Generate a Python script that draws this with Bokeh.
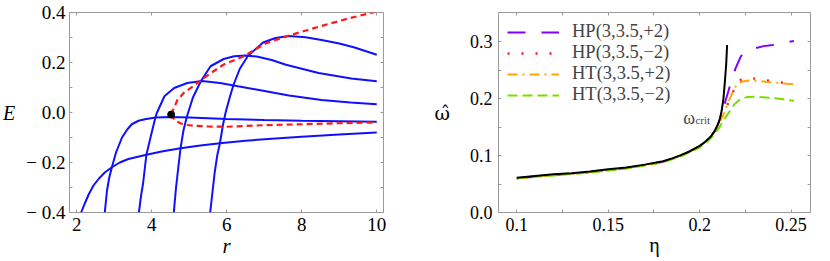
from bokeh.plotting import figure
from bokeh.layouts import row
from bokeh.models import (Range1d, FixedTicker, LinearAxis, Label, Legend, LegendItem)
from bokeh.embed import file_html
from bokeh.resources import INLINE

# ---------------- left panel data (E vs r) ----------------
r1 = [2.12, 2.2, 2.33, 2.45, 2.59, 2.75, 2.94, 3.15, 3.38, 3.86, 4.3, 4.77, 5.3, 5.82, 6.5, 7.2, 8.0, 9.0, 10.0]
E1 = [-0.40, -0.37, -0.325, -0.292, -0.265, -0.240, -0.219, -0.200, -0.186, -0.169, -0.155, -0.143, -0.132, -0.123, -0.113, -0.105, -0.097, -0.088, -0.080]

r2 = [2.75, 2.81, 2.87, 2.94, 3.05, 3.21, 3.35, 3.47, 3.65, 3.82, 4.10, 4.5, 5.0, 6.0, 7.0, 8.0, 9.0, 10.0]
E2 = [-0.40, -0.312, -0.26, -0.219, -0.16, -0.10, -0.068, -0.047, -0.033, -0.027, -0.020, -0.018, -0.020, -0.026, -0.030, -0.033, -0.035, -0.037]

r3 = [3.66, 3.72, 3.77, 3.86, 3.99, 4.10, 4.14, 4.34, 4.60, 4.95, 5.34, 5.82, 6.3, 6.79, 7.66, 8.53, 9.3, 10.0]
E3 = [-0.40, -0.33, -0.285, -0.169, -0.087, -0.02, -0.001, 0.065, 0.098, 0.118, 0.126, 0.118, 0.105, 0.092, 0.068, 0.050, 0.040, 0.033]

r4 = [4.59, 4.65, 4.71, 4.77, 4.85, 4.94, 5.1, 5.31, 5.57, 5.92, 6.2, 6.5, 6.8, 7.2, 7.58, 8.45, 9.32, 10.0]
E4 = [-0.40, -0.30, -0.22, -0.143, -0.07, -0.016, 0.06, 0.125, 0.185, 0.214, 0.225, 0.228, 0.224, 0.210, 0.191, 0.158, 0.136, 0.125]

r5 = [5.56, 5.62, 5.68, 5.75, 5.82, 5.9, 5.97, 6.08, 6.18, 6.35, 6.57, 6.97, 7.3, 7.66, 8.1, 8.53, 9.0, 9.41, 10.0]
E5 = [-0.40, -0.32, -0.24, -0.17, -0.123, -0.05, -0.001, 0.06, 0.11, 0.175, 0.227, 0.28, 0.298, 0.306, 0.301, 0.290, 0.276, 0.260, 0.231]

r_max = [4.52, 4.6, 4.69, 4.86, 5.13, 5.34, 5.65, 5.91, 6.44, 7.05, 7.62, 8.45, 9.24, 9.76, 10.0]
E_max = [-0.007, 0.02, 0.051, 0.079, 0.108, 0.132, 0.165, 0.191, 0.224, 0.277, 0.306, 0.343, 0.376, 0.395, 0.405]

r_min = [4.52, 4.56, 4.65, 4.78, 4.95, 5.13, 5.5, 6.0, 6.97, 8.01, 8.97, 10.0]
E_min = [-0.007, -0.02, -0.035, -0.044, -0.05, -0.053, -0.056, -0.057, -0.051, -0.047, -0.043, -0.040]

r_dot = [4.52]
E_dot = [-0.008]

left_xticks = [2, 4, 6, 8, 10]
left_yticks = [-0.4, -0.2, 0.0, 0.2, 0.4]
left_yminor = [-0.3, -0.1, 0.1, 0.3]
left_ylabels = ["\u2212 0.4", "\u2212 0.2", "0.0", "0.2", "0.4"]

# ---------------- right panel data (omega vs eta) ----------------
eta_crit = [0.100, 0.110, 0.120, 0.130, 0.140, 0.150, 0.160, 0.170, 0.180, 0.185, 0.190, 0.195, 0.200, 0.203, 0.206, 0.208, 0.210, 0.211, 0.212, 0.213, 0.2138, 0.2145, 0.2150]
w_crit = [0.061, 0.064, 0.067, 0.069, 0.072, 0.076, 0.079, 0.084, 0.090, 0.095, 0.101, 0.108, 0.117, 0.124, 0.133, 0.142, 0.155, 0.164, 0.178, 0.200, 0.230, 0.260, 0.294]

eta_hp_p = [0.100, 0.120, 0.140, 0.160, 0.180, 0.190, 0.200, 0.205, 0.209, 0.212, 0.2145, 0.2168, 0.2195, 0.2225, 0.226, 0.230, 0.235, 0.240, 0.245, 0.2515]
w_hp_p = [0.060, 0.066, 0.071, 0.078, 0.089, 0.100, 0.116, 0.129, 0.146, 0.172, 0.200, 0.225, 0.252, 0.274, 0.284, 0.288, 0.292, 0.294, 0.297, 0.301]

eta_hp_m = [0.100, 0.120, 0.140, 0.160, 0.180, 0.190, 0.200, 0.205, 0.209, 0.212, 0.214, 0.2175, 0.2204, 0.2235, 0.226, 0.230, 0.234, 0.2427, 0.2515]
w_hp_m = [0.060, 0.066, 0.071, 0.078, 0.089, 0.100, 0.116, 0.129, 0.146, 0.172, 0.181, 0.205, 0.228, 0.235, 0.237, 0.235, 0.233, 0.229, 0.225]

eta_ht_p = [0.100, 0.120, 0.140, 0.160, 0.180, 0.190, 0.200, 0.205, 0.210, 0.213, 0.2159, 0.2185, 0.2204, 0.2235, 0.2268, 0.232, 0.2369, 0.2478, 0.2515]
w_ht_p = [0.060, 0.066, 0.071, 0.078, 0.089, 0.100, 0.116, 0.128, 0.152, 0.172, 0.195, 0.215, 0.225, 0.230, 0.2315, 0.231, 0.229, 0.226, 0.225]

eta_ht_m = [0.100, 0.120, 0.140, 0.160, 0.180, 0.190, 0.200, 0.205, 0.208, 0.2105, 0.213, 0.2165, 0.219, 0.2222, 0.226, 0.2295, 0.2387, 0.245, 0.2515]
w_ht_m = [0.060, 0.065, 0.070, 0.077, 0.088, 0.099, 0.114, 0.127, 0.137, 0.148, 0.162, 0.178, 0.190, 0.199, 0.2025, 0.203, 0.2015, 0.199, 0.196]

legend_labels = ["HP(3,3.5,+2)", "HP(3,3.5,\u22122)", "HT(3,3.5,+2)", "HT(3,3.5,\u22122)"]

right_xticks = [0.1, 0.15, 0.2, 0.25]
right_xminor = [0.125, 0.175, 0.225]
right_xlabels = ["0.1", "0.15", "0.2", "0.25"]
right_yticks = [0.0, 0.1, 0.2, 0.3]
right_yminor = [0.05, 0.15, 0.25]
right_ylabels = ["0.0", "0.1", "0.2", "0.3"]

SERIF = "Liberation Serif"
FRAME = "#9a9a9a"


def style_axes(p, xt, xminor, yt, yminor, xlab, ylab, fsize, xstand, ystand):
    xtick = FixedTicker(ticks=xt, minor_ticks=xminor)
    ytick = FixedTicker(ticks=yt, minor_ticks=yminor)
    extra_top = LinearAxis()
    extra_right = LinearAxis()
    p.add_layout(extra_top, "above")
    p.add_layout(extra_right, "right")
    for ax in list(p.xaxis) + list(p.yaxis):
        ax.axis_line_color = None
        ax.major_tick_in = 3
        ax.major_tick_out = 0
        ax.minor_tick_in = 3
        ax.minor_tick_out = 0
        ax.major_tick_line_color = FRAME
        ax.minor_tick_line_color = FRAME
        ax.major_label_text_font = SERIF
        ax.major_label_text_color = "black"
        ax.major_label_text_font_size = fsize
        ax.axis_label_text_font = SERIF
        ax.axis_label_text_color = "black"
    for ax in p.xaxis:
        ax.ticker = xtick
    for ax in p.yaxis:
        ax.ticker = ytick
    extra_top.major_label_overrides = {t: "" for t in xt}
    extra_right.major_label_overrides = {t: "" for t in yt}
    for ax in (extra_top, extra_right):
        ax.major_label_text_font_size = "1px"
        ax.major_label_standoff = 0
    p.below[0].major_label_overrides = {t: s for t, s in zip(xt, xlab)}
    p.left[0].major_label_overrides = {t: s for t, s in zip(yt, ylab)}
    p.below[0].major_label_standoff = xstand
    p.left[0].major_label_standoff = ystand
    p.outline_line_color = FRAME
    p.outline_line_width = 1
    p.xgrid.visible = False
    p.ygrid.visible = False


# ---------------- left figure ----------------
p1 = figure(width=418, height=260, output_backend="svg", toolbar_location=None,
            x_range=Range1d(1.81, 10.18), y_range=Range1d(-0.4, 0.4),
            min_border_left=63, min_border_right=35, min_border_top=12, min_border_bottom=46)
style_axes(p1, left_xticks, [], left_yticks, left_yminor,
           [str(t) for t in left_xticks], left_ylabels, "19px", 5, 4)

for rr, ee in [(r1, E1), (r2, E2), (r3, E3), (r4, E4), (r5, E5)]:
    p1.line(rr, ee, line_color="#1010ff", line_width=2)
p1.line(r_max, E_max, line_color="#ff1a1a", line_width=2.2, line_dash="6 4")
p1.line(r_min, E_min, line_color="#ff1a1a", line_width=2.2, line_dash="6 4")
p1.scatter(r_dot, E_dot, size=7, color="black")

ax = p1.left[0]
ax.axis_label = "E"
ax.axis_label_text_font_style = "italic"
ax.axis_label_text_font_size = "20px"
ax.axis_label_orientation = "horizontal"
ax.axis_label_standoff = 8
ax = p1.below[0]
ax.axis_label = "r"
ax.axis_label_text_font_style = "italic"
ax.axis_label_text_font_size = "21px"
ax.axis_label_standoff = 0

# ---------------- right figure ----------------
p2 = figure(width=412, height=260, output_backend="svg", toolbar_location=None,
            x_range=Range1d(0.09, 0.2606), y_range=Range1d(0.0, 0.351),
            min_border_left=80, min_border_right=20, min_border_top=12, min_border_bottom=46)
style_axes(p2, right_xticks, right_xminor, right_yticks, right_yminor,
           right_xlabels, right_ylabels, "18px", 5, 6)

r_hpp = p2.line(eta_hp_p, w_hp_p, line_color="#8000ff", line_width=2, line_dash="18 16")
r_hpm = p2.line(eta_hp_m, w_hp_m, line_color="#ff1a1a", line_width=2.4, line_dash="2 12")
r_htp = p2.line(eta_ht_p, w_ht_p, line_color="#ffa500", line_width=2, line_dash="10 5 2 5")
r_htm = p2.line(eta_ht_m, w_ht_m, line_color="#77dd00", line_width=2, line_dash="10 5")
p2.line(eta_crit, w_crit, line_color="black", line_width=2)

legend = Legend(items=[LegendItem(label=lab, renderers=[rd]) for lab, rd in
                       zip(legend_labels, [r_hpp, r_hpm, r_htp, r_htm])],
                location="top_left", margin=9, padding=10, spacing=0,
                glyph_width=52, glyph_height=18, label_height=18, label_standoff=13,
                label_text_font=SERIF, label_text_font_size="18.5px",
                background_fill_alpha=0, border_line_color=None)
p2.add_layout(legend)

p2.add_layout(Label(x=0.191, y=0.166, text="\u03c9", text_font=SERIF, text_font_size="18px",
                    text_baseline="alphabetic", text_align="left"))
p2.add_layout(Label(x=0.1977, y=0.163, text="crit", text_font=SERIF, text_font_size="11px",
                    text_baseline="alphabetic", text_align="left"))

ax = p2.left[0]
ax.axis_label = "\u03c9\u0302"
ax.axis_label_text_font = "DejaVu Serif"
ax.axis_label_text_font_style = "normal"
ax.axis_label_text_font_size = "19px"
ax.axis_label_orientation = "horizontal"
ax.axis_label_standoff = 17
ax = p2.below[0]
ax.axis_label = "\u03b7"
ax.axis_label_text_align = "left"
ax.axis_label_text_font_style = "normal"
ax.axis_label_text_font_size = "20px"
ax.axis_label_standoff = 0

layout = row(p1, p2)
open("out.html", "w").write(file_html(layout, INLINE))
